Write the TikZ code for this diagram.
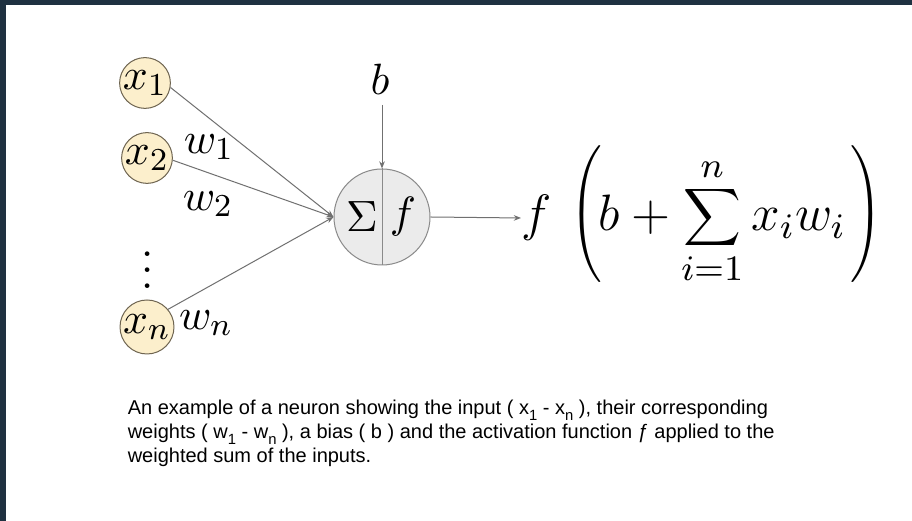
\RequirePackage{fix-cm}
\documentclass[tikz,border=0pt]{standalone}
\usepackage{fontspec}
\usepackage{graphicx}
\newfontfamily\capfont{Liberation Sans}
\usetikzlibrary{arrows.meta}
\definecolor{frame}{HTML}{1F3141}
\definecolor{infill}{HTML}{FCEFCC}
\definecolor{indraw}{HTML}{6E6450}
\definecolor{nfill}{HTML}{EBEBEB}
\definecolor{ndraw}{HTML}{8A8A8A}
\definecolor{wire}{HTML}{707070}
\newcommand\capsub[1]{\raisebox{-0.55ex}{\fontsize{3.7}{3}\selectfont #1}}
\newcommand\tallL{\mathopen{\vcenter{\hbox{\scalebox{1}[1.14]{$\displaystyle\left(\vphantom{\sum_{i=1}^{n}}\right.$}}}}}
\newcommand\tallR{\mathclose{\vcenter{\hbox{\scalebox{1}[1.14]{$\displaystyle\left.\vphantom{\sum_{i=1}^{n}}\right)$}}}}}
\begin{document}
\begin{tikzpicture}[x=0.25pt,y=-0.25pt,
  inp/.style={circle, draw=indraw, fill=infill, line width=0.25pt, minimum size=12.5pt, inner sep=0pt, font=\fontsize{10.95}{13}\selectfont},
  neuron/.style={circle, draw=ndraw, fill=nfill, line width=0.25pt, minimum size=24pt, inner sep=0pt},
  lbl/.style={inner sep=0pt, font=\fontsize{10.95}{13}\selectfont},
  arr/.style={draw=wire, line width=0.25pt, -{Stealth[length=1.8pt,width=1.4pt]}},
  caption/.style={inner sep=0pt, anchor=base west, align=left, font=\capfont\fontsize{5}{6}\selectfont}]
\fill[white] (0,0) rectangle (912,521);
\fill[frame] (0,0) rectangle (912,5);
\fill[frame] (0,0) rectangle (6,521);
\useasboundingbox (0,0) rectangle (912,521);
% inputs
\node[inp] (x1) at (145,83) {$x_1$};
\node[inp] (x2) at (147,158) {$x_2$};
\node[inp] (xn) at (147,327) {$x_n$};
\node[lbl] (dots) at (148,258) {$\vdots$};
% weights
\node[lbl] (w1) at (209,147) {$w_1$};
\node[lbl] (w2) at (208,204) {$w_2$};
\node[lbl] (wn) at (206,323) {$w_n$};
% neuron
\node[neuron] (nr) at (382,217) {};
\draw[ndraw, line width=0.25pt] (nr.north) -- (nr.south);
\node[lbl] (sig) at (362,217) {$\Sigma$};
\node[lbl] (fn) at (403,217) {$f$};
% bias
\node[lbl] (b) at (380,79) {$b$};
\coordinate (btop) at (382,105);
\draw[arr] (btop) -- (nr.north);
% connections
\draw[arr] (x1.-10) -- (nr.west);
\draw[arr] (x2.-5) -- (nr.west);
\draw[arr] (xn.40) -- (nr.west);
% output formula
\node[anchor=west, inner sep=0pt, font=\fontsize{12.8}{15}\selectfont] (form) at (521,218)
  {$\displaystyle f\mskip6.5mu\tallL\mskip-3mu b+\sum_{i=1}^{n}x_iw_i\tallR$};
\draw[arr] (nr.east) -- (form.west);
% caption
\node[caption] (cap) at (127,463) {An example of a neuron showing the input ( x\capsub{1} - x\capsub{n} ), their corresponding\\
weights ( w\capsub{1} - w\capsub{n} ), a bias ( b ) and the activation function ƒ applied to the\\
weighted sum of the inputs.};
\end{tikzpicture}
\end{document}
